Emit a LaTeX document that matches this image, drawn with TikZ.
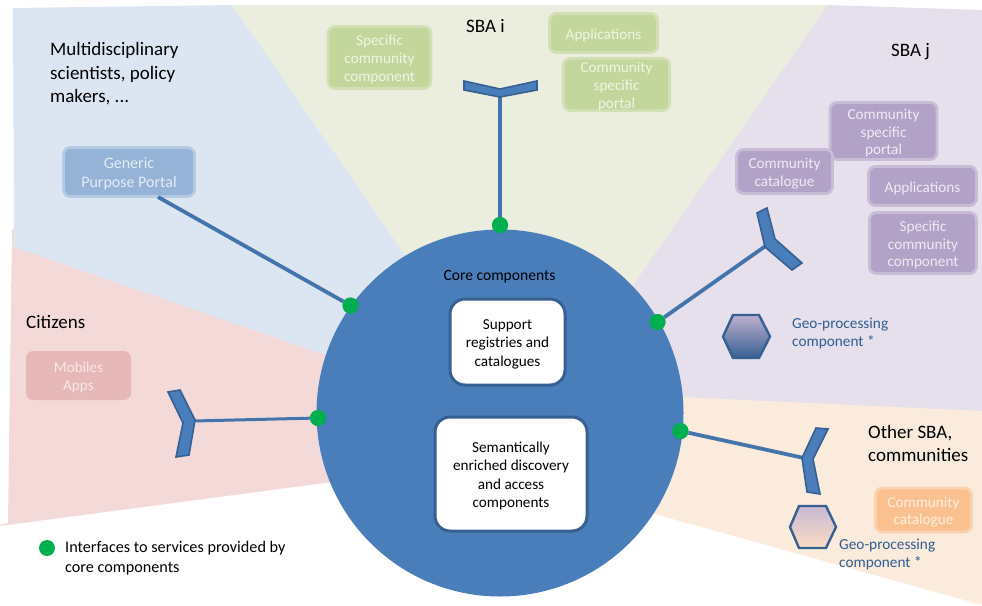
\documentclass[tikz,border=0pt]{standalone}
\usepackage{fontspec}
\setmainfont{Carlito}
\usetikzlibrary{shapes.geometric}
\definecolor{wblue}{HTML}{DCE6F2}
\definecolor{wgreen}{HTML}{EBEDDF}
\definecolor{wpurple}{HTML}{E6E0EC}
\definecolor{worange}{HTML}{FBEBDC}
\definecolor{wpink}{HTML}{F3DAD9}
\definecolor{corefill}{HTML}{4A7EBB}
\definecolor{coreline}{HTML}{376092}
\definecolor{dotgreen}{HTML}{00B050}
\definecolor{labelblue}{HTML}{2F5C92}
\newcommand\dnline{\rule{0pt}{14.5pt}}
\tikzset{
  x=1pt,y=-1pt,
  compbox/.style={rectangle,rounded corners=7pt,line width=2.8pt,inner sep=0pt,align=center,font=\fontsize{15.2}{17.7}\selectfont},
  bluebox/.style={compbox,fill=bluefill,draw=blueedge,text=bluetext},
  greenbox/.style={compbox,fill=greenfill,draw=greenedge,text=greentext},
  purplebox/.style={compbox,fill=purplefill,draw=purpleedge,text=purpletext},
  pinkbox/.style={compbox,fill=pinkfill,draw=none,text=pinktext},
  orangebox/.style={compbox,fill=orangefill,draw=orangeedge,text=orangetext},
  corebox/.style={rectangle,rounded corners=15pt,line width=3pt,fill=white,draw=coreline,inner sep=0pt,align=center,text=black,font=\fontsize{15.2}{18.2}\selectfont},
  ifdot/.style={circle,fill=dotgreen,draw=none,minimum size=16pt,inner sep=0pt},
  link/.style={draw=corefill!92!black,line width=3.8pt},
  fork/.style={fill=corefill,draw=coreline,line width=1.6pt,line join=miter},
  hexa/.style={draw=coreline,line width=2.4pt,line join=miter},
  head/.style={anchor=base west,align=left,text=black,font=\fontsize{19}{23.4}\selectfont,inner sep=0pt},
  geolabel/.style={anchor=base west,align=left,text=labelblue,font=\fontsize{15.3}{17.5}\selectfont,inner sep=0pt},
  blacklabel/.style={anchor=base west,align=left,text=black,font=\fontsize{16.2}{19.8}\selectfont,inner sep=0pt},
}
\definecolor{bluefill}{HTML}{95B3D7}\definecolor{blueedge}{HTML}{B5CAE3}\definecolor{bluetext}{HTML}{E4ECF5}
\definecolor{greenfill}{HTML}{C3D69B}\definecolor{greenedge}{HTML}{D3E0B6}\definecolor{greentext}{HTML}{F1F5E6}
\definecolor{purplefill}{HTML}{B3A2C7}\definecolor{purpleedge}{HTML}{C8BCD7}\definecolor{purpletext}{HTML}{EFEBF4}
\definecolor{pinkfill}{HTML}{E6B9B8}\definecolor{pinktext}{HTML}{F8E8E8}
\definecolor{orangefill}{HTML}{FAC090}\definecolor{orangeedge}{HTML}{FBD2B0}\definecolor{orangetext}{HTML}{FDEFE3}
\begin{document}
\begin{tikzpicture}
\useasboundingbox (0,0) rectangle (982,605);
% sectors
\fill[wpink] (12,229) -- (8,523) -- (0,525) -- (0,526) -- (340,481) -- (340,358) -- cycle;
\fill[wblue] (13,8) -- (232,5) -- (420,270) -- (340,360) -- (14,247) -- cycle;
\fill[wgreen] (232,5) -- (828,5) -- (620,310) -- (500,300) -- (405,255) -- cycle;
\fill[wpurple] (828,5) -- (982,10) -- (982,412) -- (670,397) -- (630,290) -- cycle;
\fill[worange] (670,396.5) -- (982,411) -- (982,605) -- (640,510) -- cycle;
% core
\node[circle,fill=corefill,draw=none,minimum size=367pt,inner sep=0pt] (core) at (500,413) {};
\node[anchor=base,inner sep=0pt,font=\fontsize{15.6}{16}\selectfont] (coretitle) at (499.5,280) {Core components};
\node[corebox,minimum width=115pt,minimum height=86pt] (support) at (507.5,342) {\dnline Support\\registries and\\catalogues};
\node[corebox,minimum width=152pt,minimum height=114pt] (semantic) at (511,474) {\dnline Semantically\\enriched discovery\\and access\\components};
% interface dots
\node[ifdot] (d1) at (350.5,305.5) {};
\node[ifdot] (d2) at (500,225) {};
\node[ifdot] (d3) at (657.5,322) {};
\node[ifdot] (d4) at (680.5,431) {};
\node[ifdot] (d5) at (318,418) {};
% boxes
\node[bluebox,font=\fontsize{16}{19}\selectfont,minimum width=131pt,minimum height=49pt] (generic) at (129,172) {\dnline Generic\\Purpose Portal};
\node[greenbox,minimum width=103pt,minimum height=62pt] (gspec) at (379.5,57.5) {\dnline Specific\\community\\component};
\node[greenbox,minimum width=108pt,minimum height=39pt] (gapp) at (603.5,33) {\dnline Applications};
\node[greenbox,minimum width=106pt,minimum height=50pt] (gport) at (616.5,84.5) {\dnline Community\\specific\\portal};
\node[purplebox,minimum width=107pt,minimum height=57pt] (pport) at (883.5,131) {\dnline Community\\specific\\portal};
\node[purplebox,minimum width=96pt,minimum height=44pt] (pcat) at (784.5,171.5) {\dnline Community\\catalogue};
\node[purplebox,minimum width=108pt,minimum height=39pt] (papp) at (922.5,186) {\dnline Applications};
\node[purplebox,minimum width=107pt,minimum height=61pt] (pspec) at (923,243) {\dnline Specific\\community\\component};
\node[pinkbox,minimum width=105pt,minimum height=49pt] (mobiles) at (78.5,375.5) {\dnline Mobiles\\Apps};
\node[orangebox,minimum width=96pt,minimum height=44pt] (ocat) at (923.5,510) {\dnline Community\\catalogue};
% fork apexes and link end
\coordinate (fi) at (500,92);
\coordinate (fj) at (767,245);
\coordinate (fc) at (193,421);
\coordinate (fo) at (804,458);
\coordinate (gp) at (158,197);
% connectors
\draw[link] (gp) -- (d1);
\draw[link] (fi) -- (d2);
\draw[link] (fj) -- (d3);
\draw[link] (fo) -- (d4);
\draw[link,line width=3pt] (fc) -- (d5);
\node[ifdot] at (d1) {};
\node[ifdot] at (d2) {};
\node[ifdot] at (d3) {};
\node[ifdot] at (d4) {};
\node[ifdot] at (d5) {};
% forks
\draw[fork] (464,81) -- (500,89) -- (537,81) -- (537,90) -- (500,97) -- (464,90) -- cycle;
\draw[fork] (757,213) -- (767,208) -- (775,239) -- (802,263) -- (792,270) -- (765,247) -- cycle;
\draw[fork] (168,392) -- (180,390) -- (195,420) -- (189,455) -- (176,457) -- (183,423) -- cycle;
\draw[fork] (816,428) -- (828,429) -- (813,459) -- (820,494) -- (807,492) -- (802,458) -- cycle;
% hexagons
\draw[hexa,top color=purplefill!85!white,bottom color=coreline] (723,336.5) -- (733,315) -- (759,315) -- (770,336.5) -- (759,358) -- (733,358) -- cycle;
\draw[hexa,top color=purplefill!75!white,bottom color=orangefill!55!white] (790,527) -- (799,506) -- (826,506) -- (836,527) -- (826,548) -- (799,548) -- cycle;
% headings
\node[head] (t1) at (50,102.5) {Multidisciplinary\\scientists, policy\\makers, ...};
\node[head] (t2) at (466,32) {SBA i};
\node[head] (t3) at (891,56) {SBA j};
\node[head] (t4) at (26,328) {Citizens};
\node[head] (t5) at (868,461.5) {Other SBA,\\communities};
\node[geolabel] (g1) at (792,346) {Geo-processing\\component *};
\node[geolabel] (g2) at (839,567) {Geo-processing\\component *};
\node[ifdot] (legdot) at (47,548) {};
\node[blacklabel] (leg) at (65,572) {Interfaces to services provided by\\core components};
\end{tikzpicture}
\end{document}
